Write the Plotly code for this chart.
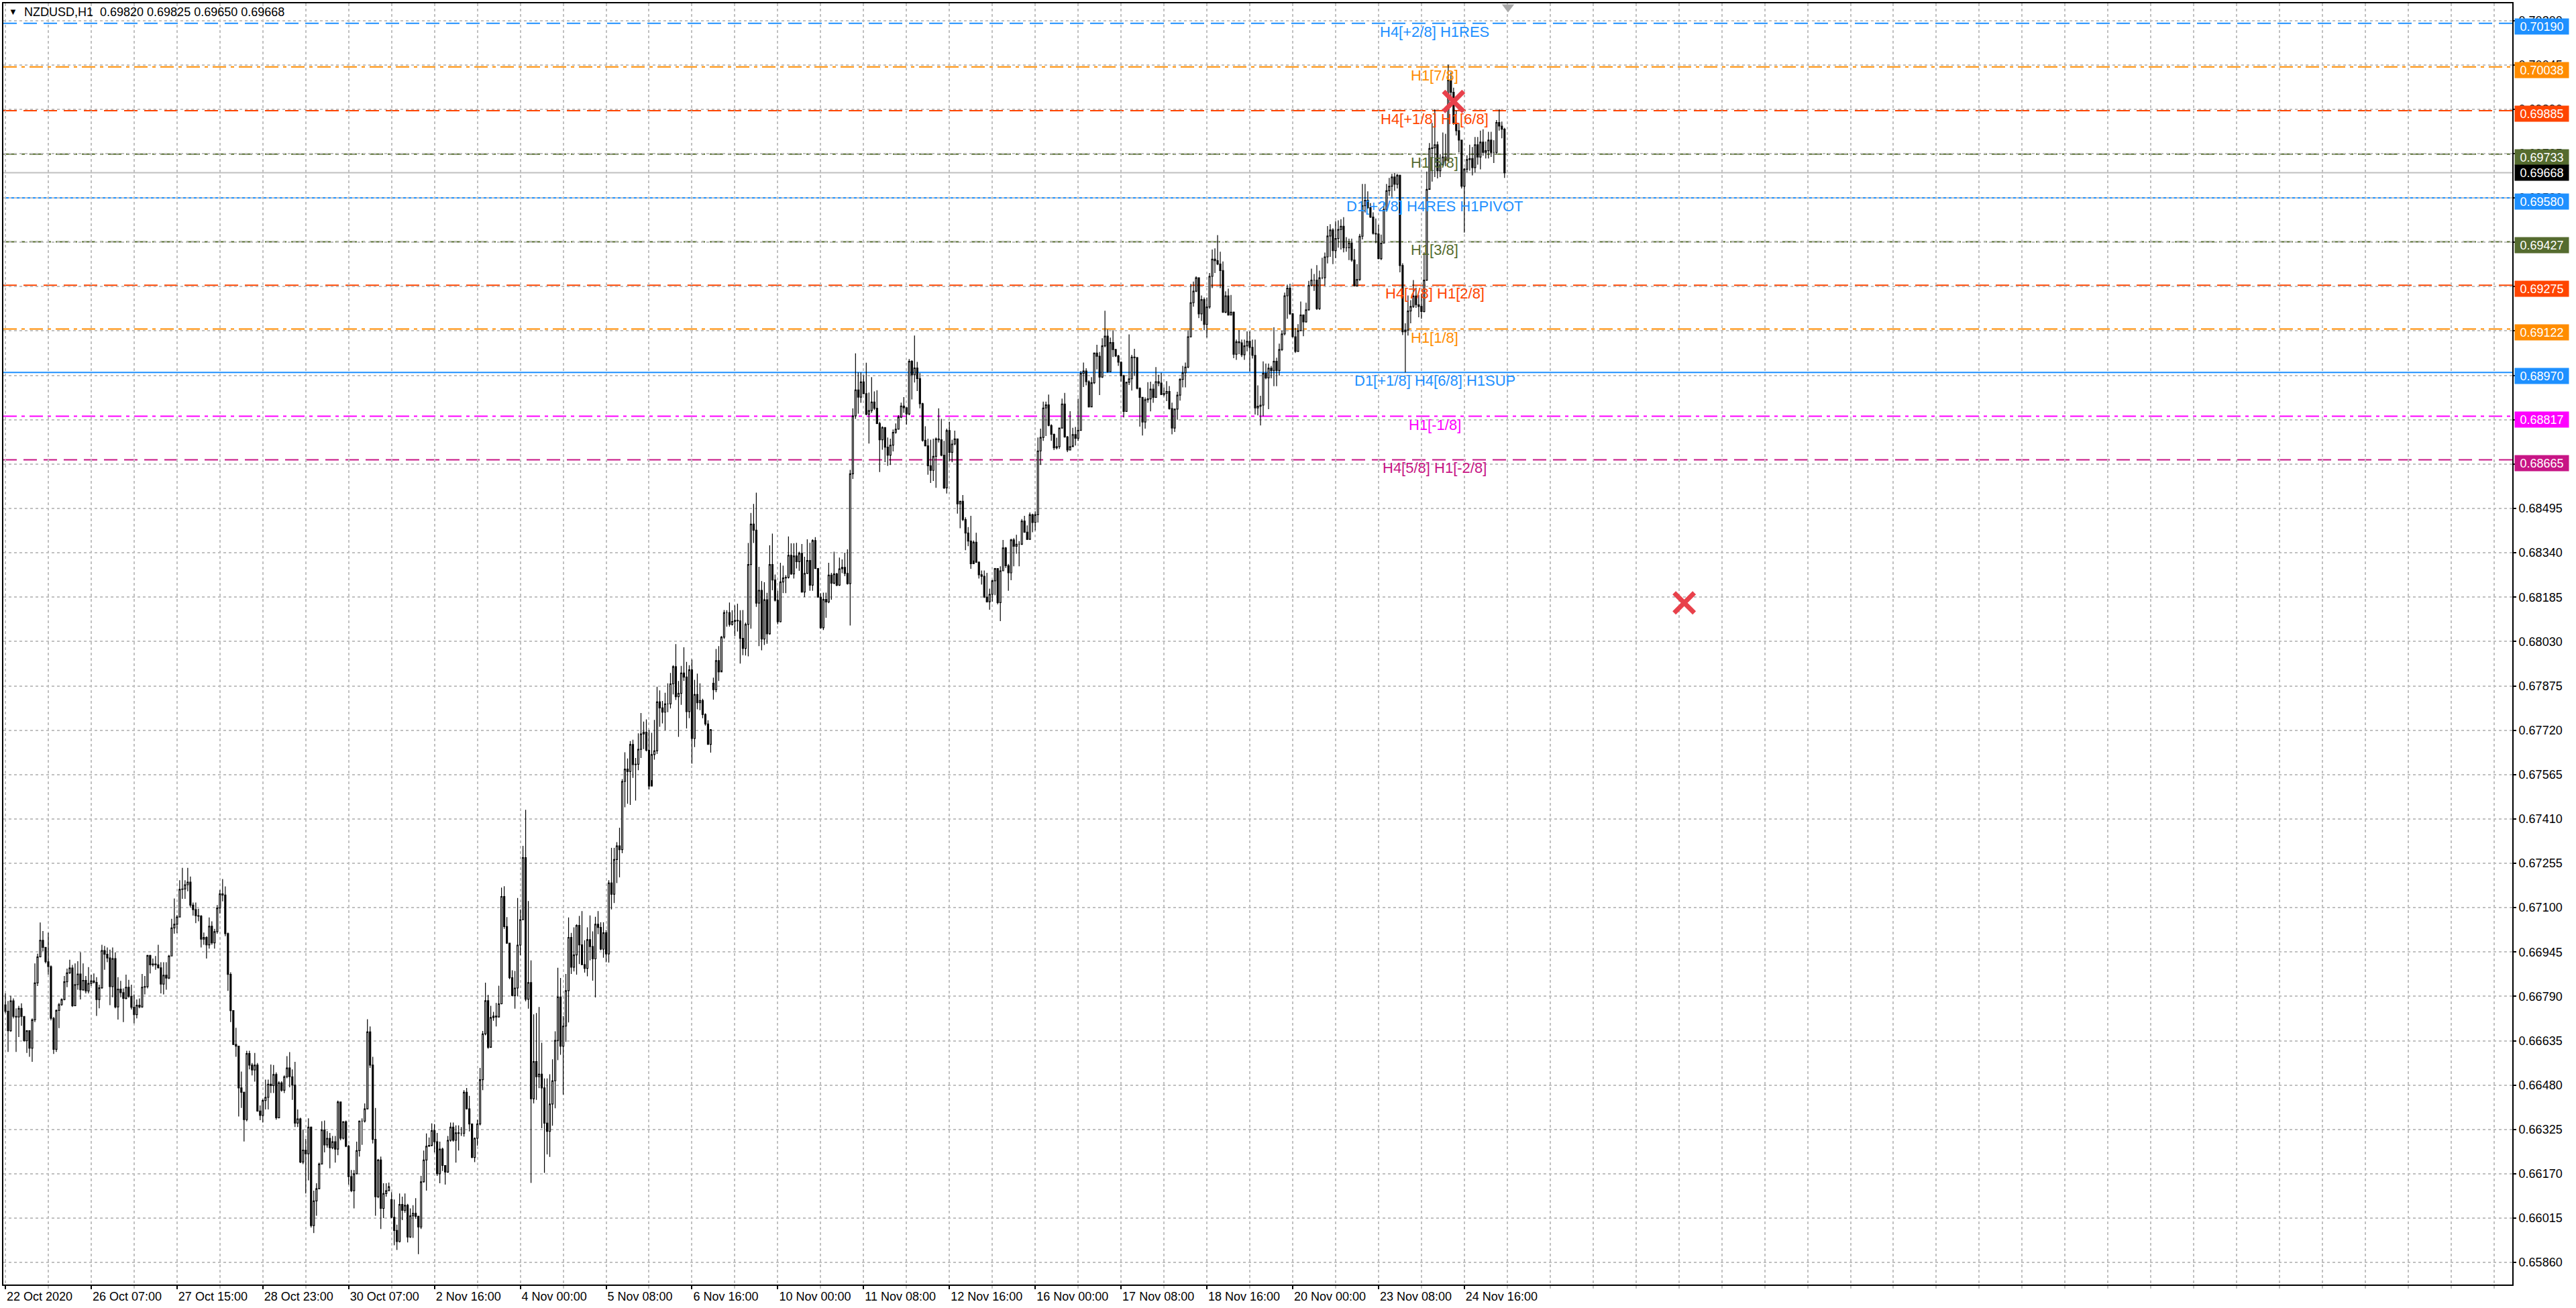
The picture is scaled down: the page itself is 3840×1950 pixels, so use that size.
import plotly.graph_objs as go

FONT = "Liberation Sans, Arial, sans-serif"

# NZDUSD,H1 candles, prices in points (1e-5)
close_pts = [
    66738, 66670, 66774, 66720, 66718, 66748, 66720, 66635, 66670, 66609, 66708, 66837, 66928, 66986, 66961, 66911, 66894, 66713, 66605, 66741,
    66761, 66779, 66841, 66872, 66889, 66757, 66831, 66868, 66813, 66846, 66809, 66835, 66844, 66839, 66779, 66820, 66950, 66937, 66924, 66824,
    66922, 66753, 66815, 66803, 66783, 66822, 66790, 66752, 66726, 66759, 66753, 66822, 66824, 66933, 66900, 66903, 66900, 66890, 66833, 66864,
    66854, 66931, 67029, 67042, 67067, 67164, 67165, 67180, 67189, 67109, 67093, 67072, 67070, 66990, 66996, 66970, 67035, 66977, 67016, 67099,
    67148, 67144, 67009, 66867, 66740, 66622, 66616, 66470, 66455, 66359, 66590, 66550, 66533, 66550, 66389, 66374, 66426, 66437, 66483, 66478,
    66517, 66366, 66488, 66462, 66509, 66540, 66509, 66480, 66347, 66362, 66211, 66253, 66240, 66333, 65989, 66075, 66118, 66204, 66323, 66271,
    66294, 66261, 66282, 66256, 66421, 66294, 66352, 66266, 66160, 66111, 66170, 66251, 66354, 66354, 66397, 66666, 66550, 66290, 66090, 66218,
    66049, 66101, 66111, 66125, 66018, 65972, 65933, 66063, 66042, 66060, 65949, 66023, 66032, 66021, 65984, 66142, 66218, 66266, 66269, 66321,
    66282, 66170, 66256, 66199, 66176, 66287, 66333, 66287, 66313, 66311, 66311, 66455, 66397, 66344, 66227, 66294, 66344, 66499, 66659, 66775,
    66612, 66716, 66721, 66718, 66764, 67139, 67034, 66976, 66855, 66793, 66819, 66969, 67058, 67275, 66780, 66838, 66432, 66562, 66509, 66518,
    66470, 66347, 66318, 66414, 66495, 66636, 66788, 66616, 66686, 66810, 66996, 66892, 66935, 67038, 66970, 66901, 66888, 66988, 66964, 66921,
    67042, 67031, 66955, 67012, 66938, 67186, 67147, 67268, 67316, 67303, 67541, 67584, 67576, 67670, 67600, 67601, 67653, 67707, 67713, 67650,
    67525, 67635, 67648, 67819, 67798, 67783, 67812, 67812, 67882, 67942, 67837, 67849, 67920, 67906, 67785, 67931, 67691, 67845, 67816, 67824,
    67775, 67742, 67671, 67722, 67862, 67963, 67924, 68045, 68131, 68131, 68090, 68100, 68104, 68102, 68041, 68006, 68090, 68299, 68440, 68419,
    68164, 68209, 68039, 68176, 68057, 68299, 68245, 68174, 68099, 68238, 68252, 68254, 68331, 68266, 68329, 68309, 68338, 68203, 68268, 68313,
    68227, 68383, 68285, 68185, 68078, 68177, 68168, 68262, 68234, 68266, 68227, 68284, 68289, 68268, 68232, 68616, 68818, 68909, 68884, 68937,
    68896, 68824, 68837, 68867, 68845, 68792, 68735, 68778, 68709, 68681, 68716, 68761, 68772, 68814, 68853, 68847, 68825, 69009, 68962, 68986,
    68949, 68861, 68733, 68714, 68644, 68628, 68677, 68738, 68735, 68681, 68567, 68767, 68691, 68720, 68738, 68511, 68520, 68456, 68409, 68381,
    68302, 68377, 68307, 68263, 68258, 68185, 68169, 68195, 68242, 68285, 68166, 68277, 68357, 68295, 68270, 68385, 68363, 68370, 68370, 68451,
    68412, 68387, 68473, 68446, 68473, 68696, 68743, 68846, 68857, 68785, 68754, 68707, 68711, 68776, 68860, 68745, 68699, 68711, 68753, 68740,
    68768, 68967, 68975, 68938, 68850, 68934, 69038, 69027, 68954, 69063, 69097, 68973, 69075, 69050, 69028, 69006, 68959, 68834, 68936, 68948,
    69024, 69022, 68915, 68883, 68797, 68875, 68878, 68912, 68883, 68938, 68933, 68893, 68897, 68904, 68844, 68776, 68842, 68891, 68946, 68969,
    68989, 69095, 69214, 69254, 69301, 69175, 69225, 69138, 69199, 69306, 69366, 69361, 69349, 69326, 69181, 69238, 69171, 69181, 69034, 69077,
    69074, 69032, 69063, 69079, 69058, 69030, 68846, 68852, 68856, 68967, 68951, 68985, 68977, 69009, 68977, 69050, 69105, 69238, 69265, 69175,
    69095, 69044, 69116, 69171, 69147, 69189, 69275, 69293, 69293, 69193, 69301, 69301, 69374, 69447, 69468, 69396, 69438, 69470, 69481, 69406,
    69406, 69422, 69363, 69273, 69295, 69446, 69553, 69572, 69546, 69513, 69456, 69454, 69368, 69422, 69540, 69605, 69621, 69653, 69628, 69659,
    69344, 69112, 69118, 69185, 69201, 69237, 69207, 69201, 69183, 69293, 69610, 69753, 69755, 69766, 69675, 69696, 69723, 69712, 69992, 69949,
    69842, 69815, 69782, 69621, 69680, 69714, 69718, 69686, 69766, 69723, 69775, 69739, 69745, 69782, 69739, 69739, 69844, 69831, 69820, 69668,
]

high_pts = [
    66800, 66774, 66792, 66783, 66748, 66757, 66766, 66720, 66672, 66672, 66713, 66905, 66939, 67048, 67018, 66961, 67012, 66898, 66718, 66744,
    66767, 66783, 66861, 66887, 66918, 66900, 66905, 66913, 66944, 66905, 66861, 66892, 66866, 66870, 66857, 66831, 66970, 66966, 66961, 66953,
    66961, 66944, 66857, 66844, 66818, 66866, 66848, 66831, 66797, 66779, 66783, 66868, 66861, 66935, 66935, 66922, 66931, 66970, 66909, 66909,
    66909, 66935, 67061, 67132, 67074, 67196, 67239, 67196, 67239, 67209, 67118, 67118, 67096, 67074, 67013, 67000, 67066, 67052, 67026, 67109,
    67161, 67200, 67174, 67013, 66874, 66741, 66680, 66613, 66527, 66457, 66600, 66600, 66557, 66592, 66557, 66409, 66431, 66499, 66499, 66552,
    66550, 66524, 66493, 66493, 66514, 66581, 66595, 66535, 66561, 66395, 66366, 66325, 66292, 66364, 66335, 66111, 66137, 66209, 66354, 66356,
    66319, 66313, 66302, 66302, 66426, 66421, 66354, 66356, 66271, 66183, 66183, 66282, 66356, 66364, 66416, 66710, 66685, 66579, 66400, 66222,
    66230, 66137, 66137, 66139, 66106, 66080, 65992, 66101, 66090, 66101, 66065, 66049, 66060, 66085, 66023, 66163, 66251, 66311, 66297, 66346,
    66344, 66313, 66282, 66261, 66199, 66302, 66349, 66349, 66339, 66339, 66333, 66462, 66470, 66442, 66344, 66297, 66359, 66540, 66669, 66838,
    66795, 66757, 66736, 66767, 66827, 67170, 67175, 67067, 66900, 66881, 66879, 67134, 67094, 67316, 67442, 67123, 66916, 66727, 66732, 66753,
    66628, 66503, 66503, 66518, 66570, 66668, 66890, 66854, 66721, 66868, 67066, 67012, 67031, 67042, 67071, 67088, 66986, 67031, 67073, 67017,
    67068, 67088, 67049, 67049, 67022, 67196, 67309, 67309, 67329, 67379, 67549, 67643, 67621, 67682, 67687, 67623, 67709, 67780, 67750, 67758,
    67721, 67711, 67756, 67872, 67859, 67822, 67851, 67884, 67920, 67947, 68021, 67892, 67945, 68010, 67959, 67947, 67967, 67896, 67918, 67884,
    67830, 67779, 67755, 67724, 67904, 68004, 68014, 68049, 68140, 68139, 68166, 68139, 68156, 68162, 68139, 68140, 68096, 68374, 68479, 68511,
    68550, 68291, 68241, 68237, 68200, 68366, 68407, 68264, 68207, 68305, 68295, 68262, 68397, 68373, 68373, 68375, 68344, 68371, 68326, 68387,
    68375, 68387, 68395, 68287, 68199, 68201, 68201, 68305, 68270, 68344, 68270, 68323, 68317, 68340, 68352, 68630, 68845, 69037, 68970, 68970,
    68960, 69004, 68900, 68954, 68904, 68908, 68798, 68782, 68778, 68743, 68739, 68771, 68792, 68821, 68865, 68884, 68827, 69017, 69013, 69099,
    69007, 68968, 68864, 68782, 68739, 68735, 68739, 68743, 68845, 68808, 68731, 68774, 68798, 68735, 68767, 68739, 68522, 68542, 68464, 68430,
    68469, 68383, 68410, 68310, 68278, 68278, 68270, 68215, 68246, 68287, 68284, 68293, 68385, 68360, 68301, 68389, 68391, 68403, 68381, 68458,
    68469, 68436, 68481, 68477, 68485, 68743, 68774, 68868, 68868, 68893, 68789, 68757, 68742, 68777, 68879, 68899, 68748, 68835, 68777, 68780,
    68879, 68975, 69005, 68985, 68943, 68954, 69040, 69067, 69042, 69090, 69186, 69120, 69092, 69118, 69053, 69032, 69009, 68962, 68938, 69103,
    69032, 69053, 69024, 68918, 68883, 68883, 68936, 68938, 68930, 68989, 68962, 68969, 68918, 68940, 68923, 68865, 68844, 68903, 68951, 68993,
    69005, 69118, 69279, 69288, 69306, 69302, 69239, 69232, 69232, 69318, 69400, 69404, 69450, 69392, 69358, 69254, 69263, 69241, 69183, 69085,
    69118, 69085, 69085, 69114, 69114, 69085, 69085, 68925, 68889, 69009, 69001, 69001, 68993, 69128, 69022, 69071, 69116, 69249, 69277, 69280,
    69178, 69126, 69139, 69218, 69173, 69214, 69290, 69333, 69314, 69345, 69326, 69371, 69389, 69482, 69488, 69474, 69499, 69502, 69506, 69513,
    69443, 69438, 69438, 69402, 69349, 69454, 69629, 69629, 69603, 69562, 69530, 69508, 69486, 69452, 69562, 69629, 69650, 69664, 69667, 69664,
    69661, 69352, 69142, 69239, 69223, 69293, 69266, 69241, 69244, 69390, 69672, 69772, 69842, 69890, 69777, 69734, 69809, 69804, 70046, 70019,
    69965, 69885, 69842, 69782, 69685, 69729, 69766, 69758, 69793, 69793, 69815, 69820, 69777, 69811, 69811, 69782, 69852, 69890, 69847, 69825,
]

low_pts = [
    66731, 66596, 66666, 66713, 66596, 66648, 66687, 66631, 66592, 66579, 66561, 66700, 66826, 66926, 66948, 66905, 66866, 66706, 66589, 66596,
    66679, 66757, 66776, 66822, 66868, 66753, 66757, 66813, 66779, 66809, 66800, 66800, 66826, 66835, 66722, 66748, 66816, 66883, 66909, 66759,
    66787, 66748, 66709, 66787, 66700, 66779, 66785, 66744, 66696, 66713, 66748, 66750, 66797, 66818, 66870, 66894, 66883, 66887, 66800, 66797,
    66813, 66850, 66931, 67009, 67011, 67066, 67131, 67131, 67157, 67100, 67072, 67046, 67052, 66961, 66970, 66922, 66957, 66970, 66957, 67009,
    67079, 67122, 67000, 66809, 66700, 66620, 66579, 66370, 66400, 66283, 66353, 66535, 66514, 66492, 66387, 66357, 66349, 66395, 66395, 66452,
    66452, 66359, 66364, 66457, 66452, 66504, 66472, 66428, 66333, 66333, 66207, 66204, 66101, 66147, 65982, 65963, 66023, 66116, 66204, 66245,
    66261, 66189, 66256, 66209, 66235, 66287, 66290, 66263, 66132, 66106, 66049, 66168, 66230, 66271, 66349, 66395, 66540, 66276, 66023, 66085,
    65977, 66015, 66090, 66111, 66015, 65920, 65904, 65930, 66008, 66034, 65930, 65946, 65946, 66013, 65889, 65977, 66139, 66111, 66266, 66266,
    66245, 66163, 66137, 66180, 66132, 66173, 66282, 66282, 66209, 66251, 66302, 66300, 66395, 66318, 66225, 66211, 66268, 66339, 66462, 66654,
    66607, 66614, 66705, 66685, 66716, 66762, 67026, 66974, 66850, 66790, 66747, 66790, 66934, 67057, 66773, 66747, 66138, 66416, 66428, 66469,
    66329, 66173, 66238, 66229, 66338, 66399, 66567, 66586, 66447, 66631, 66699, 66868, 66877, 66866, 66903, 66899, 66873, 66860, 66916, 66845,
    66786, 67007, 66951, 66925, 66909, 66908, 67094, 67116, 67186, 67206, 67290, 67451, 67463, 67459, 67553, 67474, 67580, 67623, 67654, 67646,
    67513, 67545, 67617, 67637, 67732, 67744, 67720, 67783, 67796, 67845, 67826, 67697, 67809, 67892, 67726, 67762, 67603, 67661, 67793, 67790,
    67762, 67736, 67669, 67642, 67827, 67853, 67892, 67929, 68039, 68082, 68082, 68086, 68049, 68065, 67953, 67982, 67981, 67978, 68075, 68374,
    68151, 68014, 67999, 68018, 68022, 68054, 68209, 68170, 68090, 68097, 68199, 68199, 68250, 68263, 68250, 68285, 68277, 68201, 68185, 68266,
    68207, 68207, 68284, 68183, 68074, 68070, 68113, 68164, 68176, 68230, 68223, 68224, 68269, 68258, 68229, 68086, 68598, 68808, 68826, 68864,
    68894, 68821, 68722, 68829, 68839, 68790, 68622, 68700, 68657, 68644, 68647, 68694, 68756, 68771, 68810, 68829, 68788, 68821, 68876, 68935,
    68905, 68845, 68728, 68712, 68613, 68584, 68591, 68567, 68725, 68677, 68563, 68547, 68661, 68657, 68716, 68477, 68426, 68451, 68349, 68363,
    68284, 68313, 68305, 68250, 68229, 68182, 68166, 68141, 68169, 68192, 68160, 68101, 68276, 68287, 68207, 68244, 68293, 68337, 68293, 68367,
    68410, 68385, 68389, 68412, 68418, 68446, 68647, 68731, 68748, 68782, 68731, 68699, 68701, 68703, 68774, 68742, 68692, 68699, 68715, 68715,
    68731, 68766, 68919, 68925, 68848, 68852, 68930, 68981, 68891, 68951, 69058, 68969, 68972, 69024, 69024, 68993, 68938, 68813, 68834, 68926,
    68907, 68958, 68911, 68781, 68750, 68774, 68864, 68834, 68864, 68881, 68922, 68891, 68887, 68870, 68840, 68754, 68762, 68805, 68872, 68918,
    68918, 68985, 69092, 69200, 69251, 69160, 69150, 69118, 69092, 69193, 69265, 69318, 69345, 69265, 69178, 69177, 69169, 69171, 69020, 69014,
    69034, 69024, 69014, 69044, 68973, 69019, 68823, 68820, 68785, 68817, 68946, 68842, 68950, 68922, 68922, 68959, 69045, 69100, 69158, 69171,
    69092, 69038, 69042, 69118, 69097, 69144, 69186, 69271, 69255, 69189, 69189, 69296, 69273, 69351, 69374, 69349, 69370, 69406, 69400, 69390,
    69392, 69363, 69357, 69271, 69271, 69290, 69435, 69529, 69542, 69510, 69452, 69422, 69366, 69363, 69422, 69532, 69588, 69583, 69605, 69613,
    69320, 69101, 68970, 69099, 69142, 69196, 69196, 69163, 69158, 69180, 69290, 69613, 69637, 69653, 69648, 69653, 69691, 69691, 69707, 69928,
    69836, 69798, 69739, 69613, 69459, 69669, 69675, 69659, 69669, 69696, 69680, 69728, 69718, 69718, 69723, 69702, 69734, 69815, 69788, 69650,
]

# H1 bars open where the last one closed, except after the weekend gaps
first_open_pts = 66760
gap_open_pts = {144: 66080, 264: 67884}

time_labels = ["22 Oct 2020", "26 Oct 07:00", "27 Oct 15:00", "28 Oct 23:00", "30 Oct 07:00",
               "2 Nov 16:00", "4 Nov 00:00", "5 Nov 08:00", "6 Nov 16:00", "10 Nov 00:00",
               "11 Nov 08:00", "12 Nov 16:00", "16 Nov 00:00", "17 Nov 08:00", "18 Nov 16:00",
               "20 Nov 00:00", "23 Nov 08:00", "24 Nov 16:00"]

price_ticks = ["0.65860", "0.66015", "0.66170", "0.66325", "0.66480", "0.66635", "0.66790",
               "0.66945", "0.67100", "0.67255", "0.67410", "0.67565", "0.67720", "0.67875",
               "0.68030", "0.68185", "0.68340", "0.68495", "0.68650", "0.68805", "0.68960",
               "0.69115", "0.69270", "0.69425", "0.69580", "0.69735", "0.69890", "0.70045", "0.70200"]

# murrey math levels
level_prices = [0.70190, 0.70038, 0.69885, 0.69733, 0.69580, 0.69427,
                0.69275, 0.69122, 0.68970, 0.68817, 0.68665]
level_names = ["H4[+2/8] H1RES", "H1[7/8]", "H4[+1/8] H1[6/8]", "H1[5/8]",
               "D1[+2/8] H4RES H1PIVOT", "H1[3/8]", "H4[7/8] H1[2/8]", "H1[1/8]",
               "D1[+1/8] H4[6/8] H1SUP", "H1[-1/8]", "H4[5/8] H1[-2/8]"]
level_colors = ["#1E90FF", "#FF8C00", "#FF4500", "#556B2F", "#1E90FF", "#556B2F",
                "#FF4500", "#FF8C00", "#1E90FF", "#FF00FF", "#C71585"]
level_styles = ["dash", "dashdot", "dash", "dashdot", "solid", "dashdot",
                "dash", "dashdot", "solid", "dashdot", "dash"]

current_price = 0.69668
header_text = "NZDUSD,H1  0.69820 0.69825 0.69650 0.69668"

cross_bars = [540, 626]
cross_prices = [0.69917, 0.68165]

DASHES = {"dash": "20px,10px", "dashdot": "20px,7px,5px,7px", "solid": "solid"}
GRID = "#C0C0C0"
GRID_DASH = "4px,4px"


def pts(values):
    return [v / 100000 for v in values]


open_pts = [first_open_pts] + close_pts[:-1]
for i, v in gap_open_pts.items():
    open_pts[i] = v
bars = list(range(len(close_pts)))

candles = go.Candlestick(
    x=bars,
    open=pts(open_pts),
    high=pts(high_pts),
    low=pts(low_pts),
    close=pts(close_pts),
    increasing=dict(line=dict(color="black", width=1.2), fillcolor="white"),
    decreasing=dict(line=dict(color="black", width=1.2), fillcolor="black"),
    whiskerwidth=0,
    hoverinfo="skip",
    showlegend=False,
)

crosses = go.Scatter(
    x=cross_bars, y=cross_prices, mode="markers",
    marker=dict(symbol="x-thin", size=30, line=dict(width=7, color="#E8414B")),
    hoverinfo="skip", showlegend=False,
)

shift_mark = go.Scatter(
    x=[len(close_pts) + 0.3], y=[0.70247], mode="markers",
    marker=dict(symbol="triangle-down", size=16, color="#A8A8A8"),
    cliponaxis=False, hoverinfo="skip", showlegend=False,
)

fig = go.Figure(data=[candles, crosses, shift_mark])

shapes = []
annotations = []
for p, name, c, st in zip(level_prices, level_names, level_colors, level_styles):
    shapes.append(dict(type="line", xref="paper", x0=0, x1=1, yref="y", y0=p, y1=p,
                       line=dict(color=c, width=2, dash=DASHES[st]), layer="between"))
    annotations.append(dict(x=533, y=p, xref="x", yref="y", text=name, showarrow=False,
                            xanchor="center", yanchor="top", yshift=2,
                            font=dict(family=FONT, size=22, color=c)))
    annotations.append(dict(x=1, y=p, xref="paper", yref="y", text="%.5f" % p, showarrow=False,
                            xanchor="left", yanchor="middle", xshift=3, yshift=-5,
                            width=76, height=19, borderpad=2, bgcolor=c,
                            font=dict(family=FONT, size=18, color="white")))

shapes.append(dict(type="line", xref="paper", x0=0, x1=1, yref="y", y0=current_price, y1=current_price,
                   line=dict(color="#C0C0C0", width=2), layer="between"))
annotations.append(dict(x=1, y=current_price, xref="paper", yref="y", text="%.5f" % current_price,
                        showarrow=False, xanchor="left", yanchor="middle", xshift=3,
                        width=76, height=19, borderpad=2, bgcolor="black",
                        font=dict(family=FONT, size=18, color="white")))

# header in the top left corner
annotations.append(dict(x=0, y=1, xref="paper", yref="paper", text="▼", showarrow=False,
                        xanchor="left", yanchor="middle", xshift=6, yshift=-12,
                        font=dict(family=FONT, size=13, color="black")))
annotations.append(dict(x=0, y=1, xref="paper", yref="paper", text=header_text, showarrow=False,
                        xanchor="left", yanchor="middle", xshift=29, yshift=-13,
                        font=dict(family=FONT, size=18, color="black")))

fig.update_layout(
    width=3840, height=1950,
    margin=dict(l=3, r=95, t=5, b=35),
    plot_bgcolor="white", paper_bgcolor="white",
    shapes=shapes, annotations=annotations,
    showlegend=False,
    xaxis=dict(
        range=[-0.75, 934.75],
        rangeslider=dict(visible=False),
        tickmode="array",
        tickvals=list(range(0, 32 * len(time_labels), 32)),
        ticktext=time_labels,
        ticklabelposition="outside right",
        ticks="outside", ticklen=5, tickcolor="black", tickwidth=2,
        tickfont=dict(family=FONT, size=18, color="black"),
        showgrid=True, gridcolor=GRID, gridwidth=1.5, griddash=GRID_DASH,
        minor=dict(tickmode="linear", tick0=0, dtick=16, showgrid=True,
                   ticks="outside", ticklen=4, tickcolor=GRID, tickwidth=1.5,
                   gridcolor=GRID, gridwidth=1.5, griddash=GRID_DASH),
        showline=True, linecolor="black", linewidth=2, mirror=True,
        zeroline=False, fixedrange=True,
    ),
    yaxis=dict(
        side="right",
        range=[0.65783, 0.70260],
        tickmode="array",
        tickvals=[float(t) for t in price_ticks],
        ticktext=price_ticks,
        ticks="outside", ticklen=4, tickcolor="black", tickwidth=2,
        tickfont=dict(family=FONT, size=18, color="black"),
        showgrid=True, gridcolor=GRID, gridwidth=1.5, griddash=GRID_DASH,
        showline=True, linecolor="black", linewidth=2, mirror=True,
        zeroline=False, fixedrange=True,
    ),
)

fig.write_html("out.html", config={"displayModeBar": False},
               post_script="document.body.style.margin='0';")
